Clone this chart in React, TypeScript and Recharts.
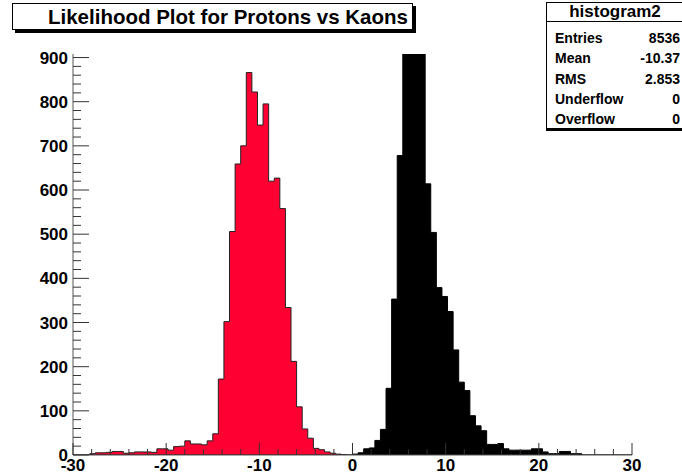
import React from "react";
import { ComposedChart, Area, XAxis, YAxis } from "recharts";

const RED = "#ff0033";
const FRAME = "#555";
const TICK = "#333";
const FONT = '"Liberation Sans", Arial, Helvetica, sans-serif';

const X_MIN = -30;
const X_MAX = 30;
const BIN_WIDTH = 0.6;
const Y_MAX = 908;

// every 2 units on x, every 20 counts on y; labels only on the majors
const X_TICKS = Array.from({ length: 31 }, (_, i) => X_MIN + 2 * i);
const Y_TICKS = Array.from({ length: 46 }, (_, i) => 20 * i);

// 100 bins of 0.6 from -30 to 30
const redCounts = [
  0, 0, 0, 3, 5, 5, 6, 8, 8, 4,
  5, 7, 7, 7, 6, 14, 14, 11, 19, 20,
  32, 25, 25, 23, 32, 48, 172, 302, 506, 659,
  700, 866, 822, 747, 795, 620, 627, 558, 334, 212,
  109, 59, 38, 15, 12, 7, 4, 2, 1, 0,
  0, 0, 0, 0, 0, 0, 0, 0, 0, 0,
  0, 0, 0, 0, 0, 0, 0, 0, 0, 0,
  0, 0, 0, 0, 0, 0, 0, 0, 0, 0,
  0, 0, 0, 0, 0, 0, 0, 0, 0, 0,
  0, 0, 0, 0, 0, 0, 0, 0, 0, 0,
];

// bins 59-62 run past the top of the frame
const blackCounts = [
  0, 0, 0, 0, 0, 0, 0, 0, 0, 0,
  0, 0, 0, 0, 0, 0, 0, 0, 0, 0,
  0, 0, 0, 0, 0, 0, 0, 0, 0, 0,
  0, 0, 0, 0, 0, 0, 0, 0, 0, 0,
  0, 0, 0, 0, 0, 0, 0, 0, 0, 0,
  2, 5, 14, 16, 33, 58, 151, 353, 678, 980,
  1080, 1040, 950, 614, 504, 379, 359, 325, 238, 165,
  146, 89, 66, 55, 24, 24, 26, 14, 11, 11,
  11, 11, 14, 14, 7, 3, 3, 8, 8, 3,
  3, 0, 0, 0, 0, 0, 0, 0, 0, 0,
];

const TITLE = "Likelihood Plot for Protons vs Kaons";
const STATS_NAME = "histogram2";
const STATS_LABELS = ["Entries", "Mean", "RMS", "Underflow", "Overflow"];
const STATS_VALUES = ["8536", "-10.37", "2.853", "0", "0"];

const last = redCounts.length - 1;
const rows = Array.from({ length: redCounts.length + 1 }, (_, i) => ({
  x: Math.round((X_MIN + i * BIN_WIDTH) * 10) / 10,
  red: redCounts[Math.min(i, last)],
  black: blackCounts[Math.min(i, last)],
}));

function XTick(props: any) {
  const { x, y, payload } = props;
  const major = payload.value % 10 === 0;
  const axisY = y - 4;
  return (
    <g>
      <line x1={x} x2={x} y1={axisY} y2={axisY - (major ? 12 : 6)} stroke={TICK} />
      {major && (
        <text x={x} y={axisY + 16} textAnchor="middle" fontFamily={FONT} fontWeight="bold" fontSize={17} fill="#000">
          {payload.value}
        </text>
      )}
    </g>
  );
}

function YTick(props: any) {
  const { x, y, payload } = props;
  const major = payload.value % 100 === 0;
  const axisX = x + 5;
  return (
    <g>
      <line x1={axisX} x2={axisX + (major ? 16 : 8)} y1={y} y2={y} stroke={TICK} />
      {major && (
        <text x={x} y={y + 6} textAnchor="end" fontFamily={FONT} fontWeight="bold" fontSize={17} fill="#000">
          {payload.value}
        </text>
      )}
    </g>
  );
}

export default function App() {
  return (
    <div style={{ position: "absolute", left: 0, top: 0, width: 682, height: 474, overflow: "hidden", background: "#fff", fontFamily: FONT }}>
      <ComposedChart width={682} height={474} data={rows} margin={{ top: 54, right: 50, bottom: 0, left: 0 }}>
        <XAxis
          xAxisId="x"
          dataKey="x"
          type="number"
          domain={[X_MIN, X_MAX]}
          ticks={X_TICKS}
          interval={0}
          height={19}
          tickLine={false}
          tickSize={0}
          tickMargin={4}
          tick={<XTick />}
          axisLine={{ stroke: FRAME }}
        />
        <XAxis xAxisId="top" orientation="top" type="number" domain={[X_MIN, X_MAX]} height={0} tick={false} tickLine={false} axisLine={{ stroke: FRAME }} />
        <YAxis
          yAxisId="y"
          type="number"
          domain={[0, Y_MAX]}
          allowDataOverflow
          ticks={Y_TICKS}
          interval={0}
          width={73}
          tickLine={false}
          tickSize={0}
          tickMargin={5}
          tick={<YTick />}
          axisLine={{ stroke: FRAME }}
        />
        <YAxis yAxisId="right" orientation="right" type="number" domain={[0, Y_MAX]} width={0} tick={false} tickLine={false} axisLine={{ stroke: FRAME }} />
        <Area
          xAxisId="x"
          yAxisId="y"
          type="stepAfter"
          dataKey="red"
          fill={RED}
          fillOpacity={1}
          stroke="#222"
          strokeWidth={1}
          isAnimationActive={false}
        />
        <Area
          xAxisId="x"
          yAxisId="y"
          type="stepAfter"
          dataKey="black"
          fill="#000"
          fillOpacity={1}
          stroke="#000"
          strokeWidth={1}
          isAnimationActive={false}
        />
      </ComposedChart>

      <div
        style={{
          position: "absolute",
          left: 12,
          top: 3,
          width: 364,
          height: 25,
          paddingLeft: 35,
          border: "1px solid #000",
          boxShadow: "3px 3px 0 #000",
          background: "#fff",
          whiteSpace: "nowrap",
          lineHeight: "26px",
          fontSize: 20.5,
          fontWeight: "bold",
        }}
      >
        {TITLE}
      </div>

      <div
        style={{
          position: "absolute",
          left: 546,
          top: 2,
          width: 136,
          height: 125,
          border: "1px solid #000",
          boxShadow: "0 2px 0 #000",
          background: "#fff",
          fontWeight: "bold",
        }}
      >
        <div style={{ height: 18, lineHeight: "18px", fontSize: 17, textAlign: "center", borderBottom: "1px solid #000" }}>{STATS_NAME}</div>
        {STATS_LABELS.map((label, i) => (
          <div
            key={label}
            style={{
              position: "absolute",
              left: 8,
              right: 3,
              top: 25 + i * 20.3,
              height: 20,
              lineHeight: "20px",
              fontSize: 14,
              display: "flex",
              justifyContent: "space-between",
            }}
          >
            <span>{label}</span>
            <span>{STATS_VALUES[i]}</span>
          </div>
        ))}
      </div>
    </div>
  );
}
